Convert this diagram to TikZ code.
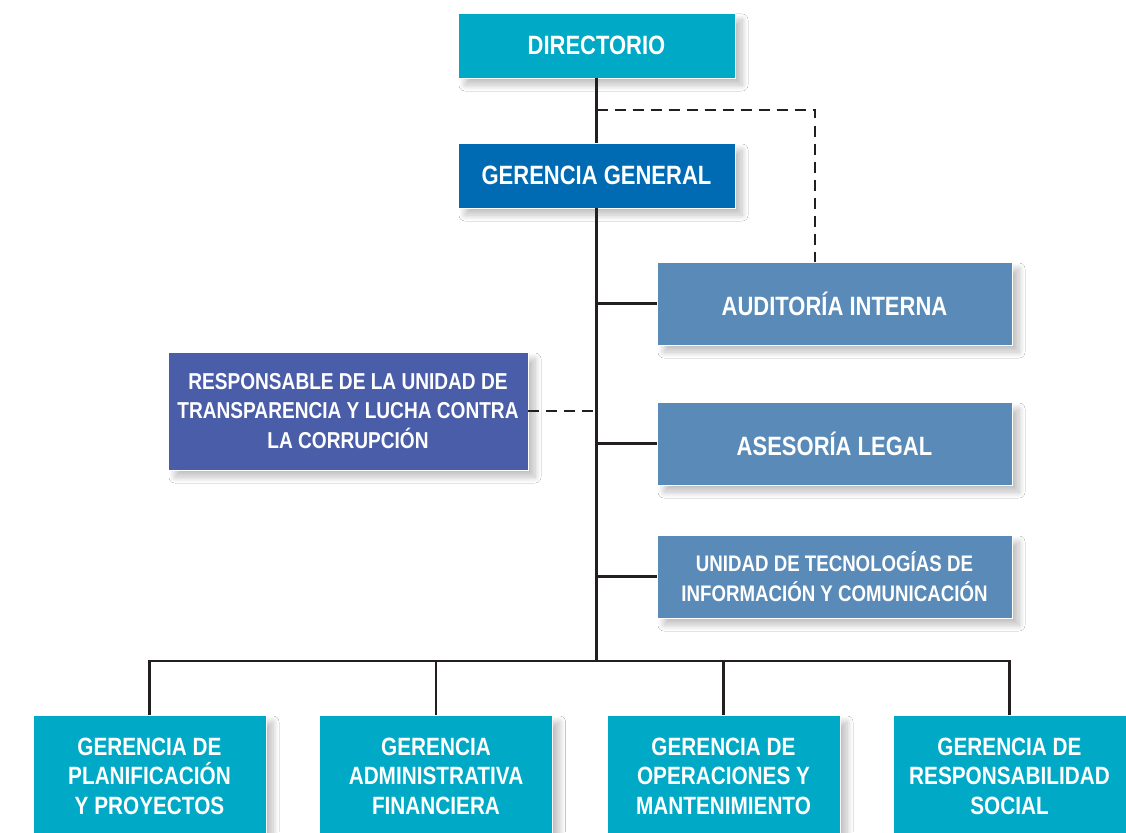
\documentclass[tikz,border=0pt]{standalone}
\usepackage{fontspec}
\setmainfont{Liberation Sans}[FakeStretch=0.83]
\usetikzlibrary{shadows.blur,calc}
\definecolor{cyanbox}{HTML}{00A9C6}
\definecolor{darkbox}{HTML}{006AB2}
\definecolor{steelbox}{HTML}{5A8AB7}
\definecolor{indigobox}{HTML}{4A5DA9}
\definecolor{linecol}{HTML}{231F20}
\tikzset{
  orgbox/.style={rectangle, draw=white, line width=0.8pt, text=white, align=center,
    font=\fontsize{23}{29.5}\selectfont\bfseries, inner sep=0pt,
    blur shadow={shadow xshift=7pt, shadow yshift=-7pt, shadow blur radius=6pt, shadow blur steps=12, shadow opacity=25}},
  bigtext/.style={font=\fontsize{26.5}{30}\selectfont\bfseries},
  midtext/.style={font=\fontsize{22.5}{29.5}\selectfont\bfseries},
  lowtext/.style={font=\fontsize{25}{29.5}\selectfont\bfseries},
  conn/.style={draw=linecol, line width=2.4pt},
  dashconn/.style={draw=linecol, line width=2.2pt, dash pattern=on 11pt off 7pt}
}
\begin{document}
\begin{tikzpicture}[x=1pt,y=-1pt]
\useasboundingbox (0,0) rectangle (1126,832);
\clip (0,0) rectangle (1126,832);
\fill[white] (0,0) rectangle (1126,832);
\node[orgbox, bigtext, fill=cyanbox, minimum width=277pt, minimum height=65pt] (dir) at (596.5,45.5) {DIRECTORIO};
\node[orgbox, bigtext, fill=darkbox, minimum width=277pt, minimum height=65pt] (gg) at (596.5,175.5) {GERENCIA GENERAL};
\node[orgbox, bigtext, fill=steelbox, minimum width=355pt, minimum height=83pt] (aud) at (834.5,303.5) {AUDITORÍA INTERNA};
\node[orgbox, bigtext, fill=steelbox, minimum width=355pt, minimum height=83pt] (ase) at (834.5,443.5) {ASESORÍA LEGAL};
\node[orgbox, midtext, fill=steelbox, minimum width=355pt, minimum height=83pt] (uti) at (834.5,576.5) {UNIDAD DE TECNOLOGÍAS DE\\INFORMACIÓN Y COMUNICACIÓN};
\node[orgbox, fill=indigobox, minimum width=360pt, minimum height=118pt] (resp) at (348,411) {RESPONSABLE DE LA UNIDAD DE\\TRANSPARENCIA Y LUCHA CONTRA\\LA CORRUPCIÓN};
\node[orgbox, lowtext, fill=cyanbox, minimum width=233pt, minimum height=122pt] (b1) at (149.5,776) {GERENCIA DE\\PLANIFICACIÓN\\Y PROYECTOS};
\node[orgbox, lowtext, fill=cyanbox, minimum width=233pt, minimum height=122pt] (b2) at (436,776) {GERENCIA\\ADMINISTRATIVA\\FINANCIERA};
\node[orgbox, lowtext, fill=cyanbox, minimum width=233pt, minimum height=122pt] (b3) at (723.5,776) {GERENCIA DE\\OPERACIONES Y\\MANTENIMIENTO};
\node[orgbox, lowtext, fill=cyanbox, minimum width=233pt, minimum height=122pt] (b4) at (1009.5,776) {GERENCIA DE\\RESPONSABILIDAD\\SOCIAL};
\coordinate (j) at (596.5,661);
\coordinate (dsplit) at (596.5,110);
\coordinate (ddrop) at ([xshift=-19.5pt]aud.north);
\draw[conn] (dir.south) -- (gg.north);
\draw[conn] (gg.south) -- (j);
\draw[conn] (b1.north) |- (j) -| (b4.north);
\draw[conn] (b2.north) -- (b2.north |- j);
\draw[conn] (b3.north) -- (b3.north |- j);
\draw[conn] (aud.west) -- (aud.west -| j);
\draw[conn] (ase.west) -- (ase.west -| j);
\draw[conn] (uti.west) -- (uti.west -| j);
\draw[dashconn] (dsplit) -| (ddrop);
\draw[dashconn] (resp.east) -- (resp.east -| j);
\end{tikzpicture}
\end{document}
